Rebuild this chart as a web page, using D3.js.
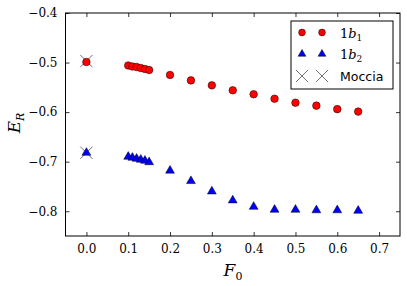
<!DOCTYPE html>
<html>
<head>
<meta charset="utf-8">
<script src="https://cdn.jsdelivr.net/npm/d3@7"></script>
<style>
  body { margin: 0; background: #fff; }
  svg text { fill: #000; }
</style>
</head>
<body>
<div id="chart"></div>
<script>
// data
const f0B1 = [0.0, 0.10, 0.11, 0.12, 0.13, 0.14, 0.15, 0.20, 0.25, 0.30, 0.35, 0.40, 0.45, 0.50, 0.55, 0.60, 0.65];
const eB1 = [-0.499, -0.506, -0.508, -0.509, -0.511, -0.513, -0.515, -0.525, -0.536, -0.546, -0.556, -0.564, -0.573, -0.581, -0.587, -0.594, -0.599];
const f0B2 = [0.0, 0.10, 0.11, 0.12, 0.13, 0.14, 0.15, 0.20, 0.25, 0.30, 0.35, 0.40, 0.45, 0.50, 0.55, 0.60, 0.65];
const eB2 = [-0.682, -0.690, -0.692, -0.694, -0.696, -0.698, -0.701, -0.718, -0.739, -0.760, -0.778, -0.791, -0.797, -0.797, -0.798, -0.798, -0.799];
const f0Moccia = [0.0, 0.0];
const eMoccia = [-0.497, -0.682];
const xTicks = [0.0, 0.1, 0.2, 0.3, 0.4, 0.5, 0.6, 0.7];
const yTicks = [-0.8, -0.7, -0.6, -0.5, -0.4];

const W = 407, H = 286;
const margin = {top: 13, right: 7, bottom: 50, left: 65.5};
const svg = d3.select('#chart').append('svg')
  .attr('width', W).attr('height', H);

const x = d3.scaleLinear().domain([-0.05, 0.75]).range([margin.left, W - margin.right]);
const y = d3.scaleLinear().domain([-0.85, -0.4]).range([H - margin.bottom, margin.top]);

const serif = '"DejaVu Serif", serif';
const fmt = d => (d < 0 ? '\u2212' : '') + Math.abs(d).toFixed(1);

// ticks pointing inwards on all four sides
const g = svg.append('g');
g.append('g').attr('transform', `translate(0,${y.range()[0]})`)
  .call(d3.axisBottom(x).tickValues(xTicks).tickSizeInner(-4).tickSizeOuter(0).tickPadding(8).tickFormat(fmt));
g.append('g').attr('transform', `translate(0,${y.range()[1]})`)
  .call(d3.axisTop(x).tickValues(xTicks).tickSizeInner(-4).tickSizeOuter(0).tickFormat(''));
g.append('g').attr('transform', `translate(${x.range()[0]},0)`)
  .call(d3.axisLeft(y).tickValues(yTicks).tickSizeInner(-4).tickSizeOuter(0).tickPadding(8).tickFormat(fmt));
g.append('g').attr('transform', `translate(${x.range()[1]},0)`)
  .call(d3.axisRight(y).tickValues(yTicks).tickSizeInner(-4).tickSizeOuter(0).tickFormat(''));
g.selectAll('.domain').remove();
g.selectAll('.tick line').attr('stroke', '#000').attr('stroke-width', 0.8);
g.selectAll('.tick text').attr('font-family', serif).attr('font-size', 12).attr('fill', '#000');

svg.append('rect')
  .attr('x', x.range()[0]).attr('y', y.range()[1])
  .attr('width', x.range()[1] - x.range()[0]).attr('height', y.range()[0] - y.range()[1])
  .attr('fill', 'none').attr('stroke', '#000').attr('stroke-width', 1);

const tri = d3.symbol().type(d3.symbolTriangle).size(34);
const cross = d3.symbol().type(d3.symbolX).size(100);

function circles(sel, xs, ys) {
  sel.selectAll(null).data(xs).enter().append('circle')
    .attr('cx', d => x(d)).attr('cy', (d, i) => y(ys[i])).attr('r', 3.8)
    .attr('fill', '#ff0000').attr('stroke', '#000').attr('stroke-width', 0.5);
}
function triangles(sel, xs, ys) {
  sel.selectAll(null).data(xs).enter().append('path')
    .attr('d', tri).attr('transform', (d, i) => `translate(${x(d)},${y(ys[i])})`)
    .attr('fill', '#0000ff').attr('stroke', '#000').attr('stroke-width', 0.5);
}
function crosses(sel, xs, ys) {
  sel.selectAll(null).data(xs).enter().append('path')
    .attr('d', cross).attr('transform', (d, i) => `translate(${x(d)},${y(ys[i])})`)
    .attr('fill', 'none').attr('stroke', '#333').attr('stroke-width', 0.7);
}

const plot = svg.append('g');
crosses(plot, f0Moccia, eMoccia);
circles(plot, f0B1, eB1);
triangles(plot, f0B2, eB2);

// legend
const lg = svg.append('g');
lg.append('rect').attr('x', 291).attr('y', 21).attr('width', 102).attr('height', 68)
  .attr('fill', '#fff').attr('stroke', '#000').attr('stroke-width', 1);
const rows = [32.5, 54, 76];
const mx = [302, 322];
mx.forEach(m => {
  lg.append('circle').attr('cx', m).attr('cy', rows[0]).attr('r', 3.4)
    .attr('fill', '#ff0000').attr('stroke', '#000').attr('stroke-width', 0.5);
  lg.append('path').attr('d', d3.symbol().type(d3.symbolTriangle).size(26))
    .attr('transform', `translate(${m},${rows[1]})`)
    .attr('fill', '#0000ff').attr('stroke', '#000').attr('stroke-width', 0.5);
  lg.append('path').attr('d', cross).attr('transform', `translate(${m},${rows[2]})`)
    .attr('fill', 'none').attr('stroke', '#333').attr('stroke-width', 0.7);
});
function mathLabel(yy, sub) {
  const t = lg.append('text').attr('x', 340).attr('y', yy + 5)
    .attr('font-family', serif).attr('font-size', 13);
  t.append('tspan').text('1');
  t.append('tspan').attr('font-style', 'italic').text('b');
  t.append('tspan').attr('font-size', 9).attr('dy', 3).text(sub);
}
mathLabel(rows[0], '1');
mathLabel(rows[1], '2');
lg.append('text').attr('x', 340).attr('y', rows[2] + 5)
  .attr('font-family', '"DejaVu Sans", sans-serif').attr('font-size', 12.5).text('Moccia');

// axis titles
const xl = svg.append('text').attr('x', 233).attr('y', 276).attr('text-anchor', 'middle')
  .attr('font-family', serif).attr('font-size', 17);
xl.append('tspan').attr('font-style', 'italic').text('F');
xl.append('tspan').attr('font-size', 11).attr('dy', 4).text('0');

const yl = svg.append('text').attr('transform', 'translate(20,123) rotate(-90)').attr('text-anchor', 'middle')
  .attr('font-family', serif).attr('font-size', 17);
yl.append('tspan').attr('font-style', 'italic').text('E');
yl.append('tspan').attr('font-style', 'italic').attr('font-size', 11).attr('dy', 4).text('R');
</script>
</body>
</html>
